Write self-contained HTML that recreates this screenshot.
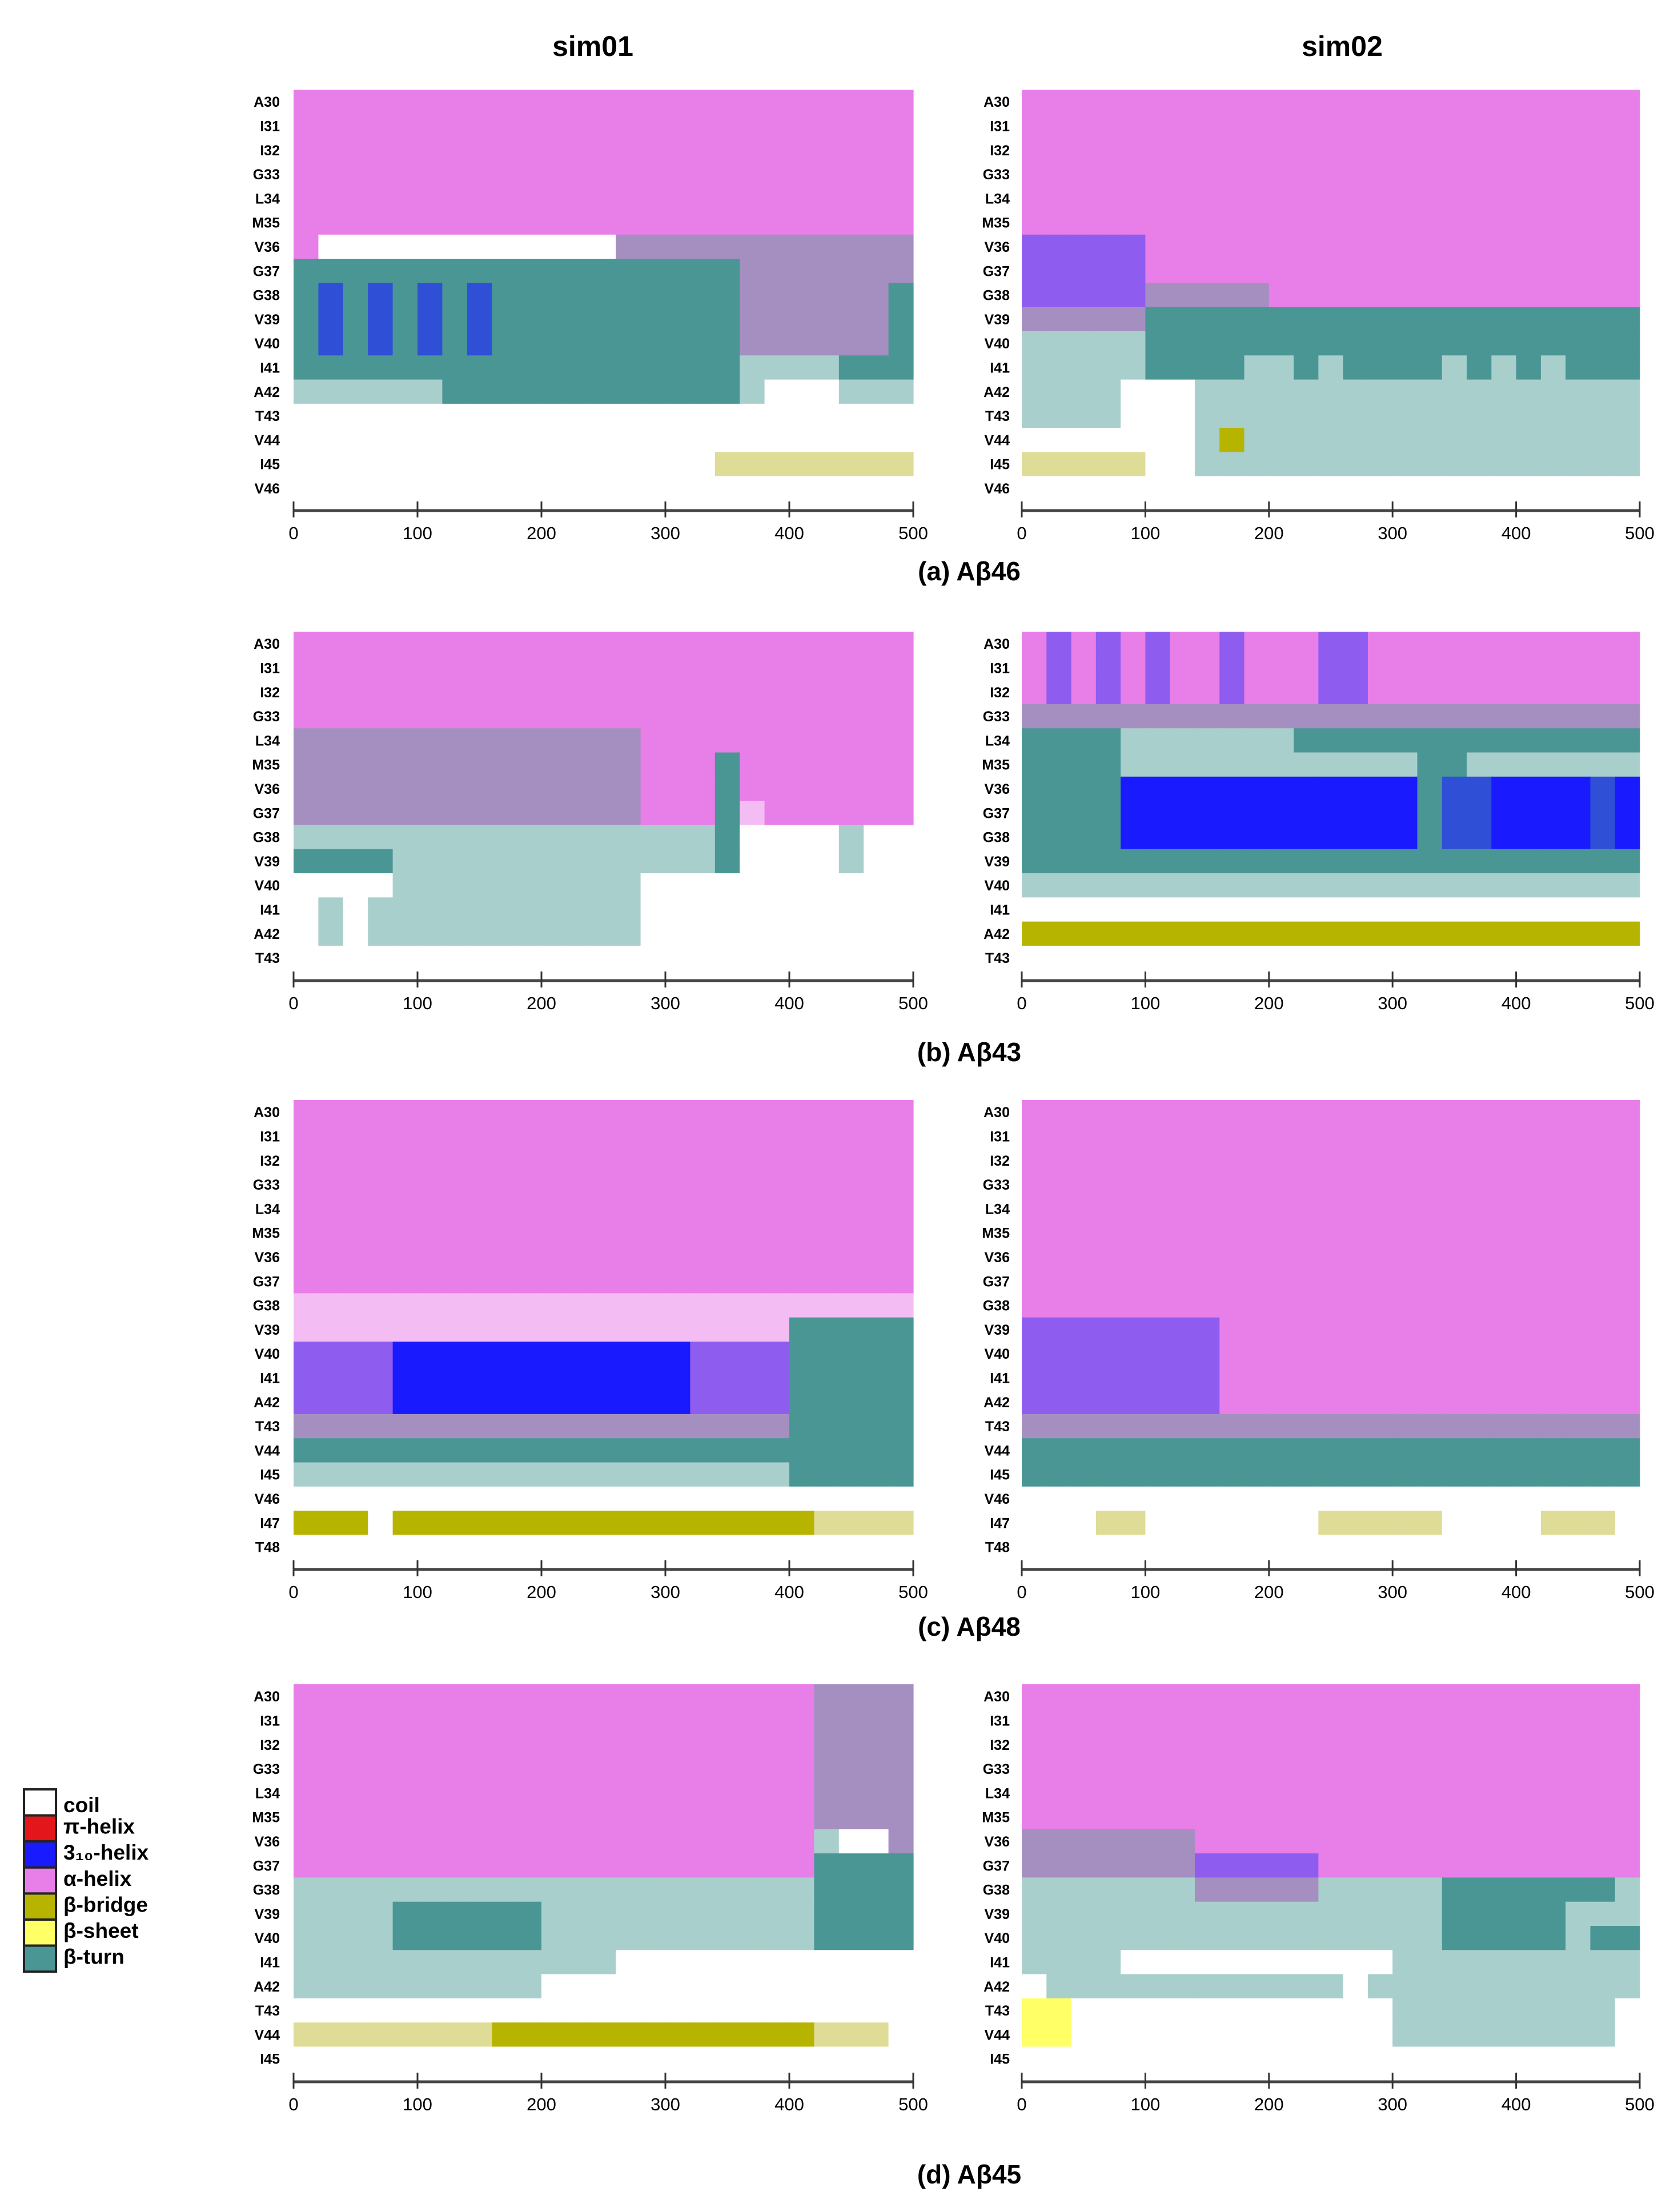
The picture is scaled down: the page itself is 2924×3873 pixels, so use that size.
<!DOCTYPE html>
<html><head><meta charset="utf-8">
<style>
html,body{margin:0;padding:0;background:#fff;}
svg{display:block;}
text{font-family:"Liberation Sans",sans-serif;}
</style></head>
<body>
<svg id="fig" width="2924" height="3873" viewBox="0 0 2924 3873" xmlns="http://www.w3.org/2000/svg"></svg>
<script>
// ---- data ----
const timeBins = [0,20,40,60,80,100,120,140,160,180,200,220,240,260,280,300,320,340,360,380,400,420,440,460,480];
const xTicks = [0,100,200,300,400,500];
const res46 = ["A30","I31","I32","G33","L34","M35","V36","G37","G38","V39","V40","I41","A42","T43","V44","I45","V46"];
const res43 = ["A30","I31","I32","G33","L34","M35","V36","G37","G38","V39","V40","I41","A42","T43"];
const res48 = ["A30","I31","I32","G33","L34","M35","V36","G37","G38","V39","V40","I41","A42","T43","V44","I45","V46","I47","T48"];
const res45 = ["A30","I31","I32","G33","L34","M35","V36","G37","G38","V39","V40","I41","A42","T43","V44","I45"];
const A25="aaaaaaaaaaaaaaaaaaaaaaaaa", C25="ccccccccccccccccccccccccc";
const a46s1 = [A25,A25,A25,A25,A25,A25,
 "accccccccccccxxxxxxxxxxxx","uuuuuuuuuuuuuuuuuuxxxxxxx","uvuvuvuvuuuuuuuuuuxxxxxxu",
 "uvuvuvuvuuuuuuuuuuxxxxxxu","uvuvuvuvuuuuuuuuuuxxxxxxu","uuuuuuuuuuuuuuuuuummmmuuu",
 "mmmmmmuuuuuuuuuuuumcccmmm",C25,C25,"cccccccccccccccccyyyyyyyy",C25];
const a46s2 = [A25,A25,A25,A25,A25,A25,
 "qqqqqaaaaaaaaaaaaaaaaaaaa","qqqqqaaaaaaaaaaaaaaaaaaaa","qqqqqxxxxxaaaaaaaaaaaaaaa",
 "xxxxxuuuuuuuuuuuuuuuuuuuu","mmmmmuuuuuuuuuuuuuuuuuuuu","mmmmmuuuummumuuuumumumuuu",
 "mmmmcccmmmmmmmmmmmmmmmmmm","mmmmcccmmmmmmmmmmmmmmmmmm","cccccccmbmmmmmmmmmmmmmmmm",
 "yyyyyccmmmmmmmmmmmmmmmmmm",C25];
const b43s1 = [A25,A25,A25,A25,
 "xxxxxxxxxxxxxxaaaaaaaaaaa","xxxxxxxxxxxxxxaaauaaaaaaa","xxxxxxxxxxxxxxaaauaaaaaaa",
 "xxxxxxxxxxxxxxaaauwaaaaaa","mmmmmmmmmmmmmmmmmuccccmcc","uuuummmmmmmmmmmmmuccccmcc",
 "ccccmmmmmmmmmmccccccccccc","cmcmmmmmmmmmmmccccccccccc","cmcmmmmmmmmmmmccccccccccc",C25];
const b43s2 = ["aqaqaqaaqaaaqqaaaaaaaaaaa","aqaqaqaaqaaaqqaaaaaaaaaaa","aqaqaqaaqaaaqqaaaaaaaaaaa",
 "xxxxxxxxxxxxxxxxxxxxxxxxx","uuuummmmmmmuuuuuuuuuuuuuu","uuuummmmmmmmmmmmuummmmmmm",
 "uuuuttttttttttttuvvttttvt","uuuuttttttttttttuvvttttvt","uuuuttttttttttttuvvttttvt",
 "uuuuuuuuuuuuuuuuuuuuuuuuu","mmmmmmmmmmmmmmmmmmmmmmmmm",C25,"bbbbbbbbbbbbbbbbbbbbbbbbb",C25];
const c48s1 = [A25,A25,A25,A25,A25,A25,A25,A25,
 "wwwwwwwwwwwwwwwwwwwwwwwww","wwwwwwwwwwwwwwwwwwwwuuuuu","qqqqttttttttttttqqqquuuuu",
 "qqqqttttttttttttqqqquuuuu","qqqqttttttttttttqqqquuuuu","xxxxxxxxxxxxxxxxxxxxuuuuu",
 "uuuuuuuuuuuuuuuuuuuuuuuuu","mmmmmmmmmmmmmmmmmmmmuuuuu",C25,"bbbcbbbbbbbbbbbbbbbbbyyyy",C25];
const c48s2 = [A25,A25,A25,A25,A25,A25,A25,A25,A25,
 "qqqqqqqqaaaaaaaaaaaaaaaaa","qqqqqqqqaaaaaaaaaaaaaaaaa","qqqqqqqqaaaaaaaaaaaaaaaaa","qqqqqqqqaaaaaaaaaaaaaaaaa",
 "xxxxxxxxxxxxxxxxxxxxxxxxx","uuuuuuuuuuuuuuuuuuuuuuuuu","uuuuuuuuuuuuuuuuuuuuuuuuu",C25,
 "cccyycccccccyyyyyccccyyyc",C25];
const d45s1 = ["aaaaaaaaaaaaaaaaaaaaaxxxx","aaaaaaaaaaaaaaaaaaaaaxxxx","aaaaaaaaaaaaaaaaaaaaaxxxx",
 "aaaaaaaaaaaaaaaaaaaaaxxxx","aaaaaaaaaaaaaaaaaaaaaxxxx","aaaaaaaaaaaaaaaaaaaaaxxxx",
 "aaaaaaaaaaaaaaaaaaaaamccx","aaaaaaaaaaaaaaaaaaaaauuuu","mmmmmmmmmmmmmmmmmmmmmuuuu",
 "mmmmuuuuuummmmmmmmmmmuuuu","mmmmuuuuuummmmmmmmmmmuuuu","mmmmmmmmmmmmmcccccccccccc",
 "mmmmmmmmmmccccccccccccccc",C25,"yyyyyyyybbbbbbbbbbbbbyyyc",C25];
const d45s2 = [A25,A25,A25,A25,A25,A25,
 "xxxxxxxaaaaaaaaaaaaaaaaaa","xxxxxxxqqqqqaaaaaaaaaaaaa","mmmmmmmxxxxxmmmmmuuuuuuum",
 "mmmmmmmmmmmmmmmmmuuuuummm","mmmmmmmmmmmmmmmmmuuuuumuu","mmmmcccccccccccmmmmmmmmmm",
 "cmmmmmmmmmmmmcmmmmmmmmmmm","sscccccccccccccmmmmmmmmmc","sscccccccccccccmmmmmmmmmc",C25];
const legendLabels = ["coil","π-helix","3₁₀-helix","α-helix","β-bridge","β-sheet","β-turn"];
const legendKeys = ["c","p","t","a","b","s","u"];

// ---- styles ----
const COL = {c:"#ffffff",p:"#e3171b",t:"#1a1aff",a:"#e87ee8",b:"#b7b400",s:"#ffff66",u:"#4a9694",
  m:"#a9cfcd",x:"#a58fc0",q:"#8f5cf0",w:"#f3bdf3",y:"#dedc96",v:"#2f4fd6"};
const NS="http://www.w3.org/2000/svg";
const svg=document.getElementById('fig');
function mk(tag,attrs,parent){const e=document.createElementNS(NS,tag);for(const k in attrs)e.setAttribute(k,attrs[k]);(parent||svg).appendChild(e);return e;}

const cols=[{x0:514,x1:1599,lx:490,tx:1038},{x0:1789,x1:2871,lx:1768,tx:2350}];
const RH=42.3;
const panels=[
 {id:"abeta46",res:res46,data:[a46s1,a46s2],top:157,axis:894,cap:"(a) Aβ46",capY:1016},
 {id:"abeta43",res:res43,data:[b43s1,b43s2],top:1106,axis:1717,cap:"(b) Aβ43",capY:1858},
 {id:"abeta48",res:res48,data:[c48s1,c48s2],top:1926,axis:2748,cap:"(c) Aβ48",capY:2864},
 {id:"abeta45",res:res45,data:[d45s1,d45s2],top:2949,axis:3645,cap:"(d) Aβ45",capY:3823}
];
const binW=20;

["sim01","sim02"].forEach((t,i)=>{
  const e=mk('text',{x:cols[i].tx,y:98,'text-anchor':'middle','font-size':50,'font-weight':'bold'});
  e.textContent=t;
  
  
});

panels.forEach(P=>{
  const pg=mk('g',{});
  
  
  cols.forEach((C,ci)=>{
    const xs=t=>C.x0+(t/500)*(C.x1-C.x0);
    const g=mk('g',{},pg);
    
    
    const rows=P.data[ci];
    rows.forEach((row,ri)=>{
      const y=P.top+ri*RH;
      for(let b=0;b<timeBins.length;b++){
        const t0=timeBins[b], t1=t0+binW;
        const r=mk('rect',{x:xs(t0),y:y,width:xs(t1)-xs(t0)+0.6,height:RH+0.6,fill:COL[row[b]]},g);
        
        
      }
      const lb=mk('text',{x:C.lx,y:y+RH/2+9,'text-anchor':'end','font-size':25,'font-weight':'bold'},g);
      lb.textContent=P.res[ri];
      
      
    });
    const ax=mk('line',{x1:xs(0),x2:xs(500),y1:P.axis,y2:P.axis,stroke:'#444','stroke-width':5},g);
    
    
    xTicks.forEach(tv=>{
      const tk=mk('line',{x1:xs(tv),x2:xs(tv),y1:P.axis-16,y2:P.axis+12,stroke:'#333','stroke-width':3},g);
      
      
      const tl=mk('text',{x:xs(tv),y:P.axis+50,'text-anchor':'middle','font-size':31},g);
      tl.textContent=tv;
      
      
    });
  });
  const cp=mk('text',{x:1697,y:P.capY,'text-anchor':'middle','font-size':46,'font-weight':'bold'},pg);
  cp.textContent=P.cap;
  
  
});

const lg=mk('g',{});


legendKeys.forEach((k,i)=>{
  const y=3133+i*45.6;
  const r=mk('rect',{x:42,y:y,width:56,height:45.6,fill:COL[k],stroke:'#222','stroke-width':4},lg);
  
  
  const t=mk('text',{x:111,y:y+(i===0?40:32),'font-size':37,'font-weight':'bold'},lg);
  t.textContent=legendLabels[i];
  
  
});
</script>
</body></html>
